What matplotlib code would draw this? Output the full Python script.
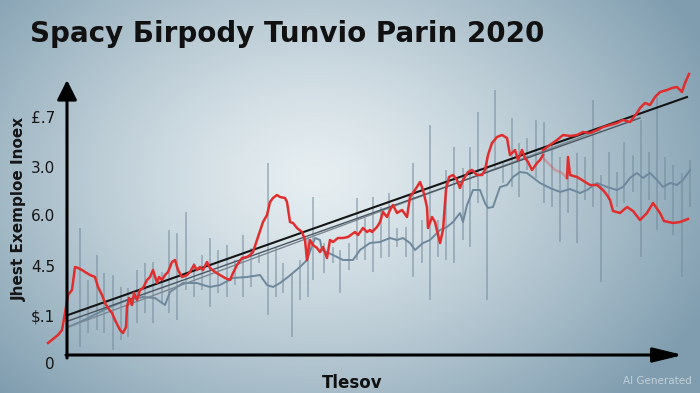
import matplotlib
matplotlib.use('Agg')
import matplotlib.pyplot as plt
import numpy as np
from matplotlib.colors import to_rgb

# x = trading day, y = index value
red_x = [-19, -14, -9, -5, -2, 1, 5, 8, 11, 15, 18, 23, 28, 31, 35, 38, 41, 45, 48, 53, 56, 59, 60, 62, 65, 67, 70, 73, 76, 80,
         83, 86, 90, 92, 95, 98, 101, 105, 108, 111, 115, 120, 123, 127, 130, 133, 136, 140, 143, 148, 153, 158, 163, 166, 170,
         175, 180, 183, 186, 191, 196, 200, 203, 206, 210, 213, 218, 220, 223, 226, 230, 235, 238, 240, 243, 246, 250, 253, 256,
         260, 263, 266, 271, 276, 281, 288, 291, 296, 300, 303, 305, 310, 313, 316, 320, 323, 326, 330, 335, 340, 343, 348, 353,
         356, 360, 361, 365, 368, 373, 376, 379, 382, 386, 390, 393, 396, 401, 405, 410, 415, 418, 421, 425, 430, 435, 440, 443,
         448, 451, 455, 458, 461, 465, 470, 473, 476]
red_y = [12, 16, 20, 25, 42, 60, 65, 88, 87, 85, 83, 80, 78, 68, 60, 52, 47, 42, 35, 25, 22, 28, 48, 57, 50, 62, 55, 65, 67, 75,
         78, 85, 72, 78, 75, 80, 83, 93, 95, 85, 78, 80, 83, 90, 85, 88, 85, 93, 87, 83, 80, 77, 75, 82, 90,
         97, 98, 100, 103, 118, 133, 140, 153, 157, 160, 158, 157, 153, 133, 132, 127, 123, 115, 95, 115, 110, 107, 103, 108,
         97, 115, 113, 117, 117, 118, 123, 120, 127, 123, 125, 123, 128, 133, 143, 138, 145, 150, 142, 145, 138, 158, 165, 173,
         165, 148, 127, 138, 133, 112, 125, 165, 178, 180, 175, 167, 175, 183, 185, 180, 180, 185, 200, 212, 218, 220, 217, 200,
         205, 195, 205, 197, 193, 185, 192, 195, 200]

up_x = [476, 483, 490, 496, 503, 510, 516, 523, 530, 536, 543, 550, 556, 563, 570, 573, 578, 583, 588, 593, 600, 605, 610, 615, 618, 622]
up_y = [205, 210, 215, 220, 219, 220, 223, 222, 225, 228, 230, 232, 235, 233, 242, 247, 252, 250, 258, 263, 265, 267, 268, 263, 272, 281]

fade_x = [476, 481, 488, 495, 500]
fade_y = [197, 192, 185, 182, 177]

low_x = [500, 501, 503, 510, 515, 523, 530, 536, 540, 543, 546, 553, 560, 566, 573, 580, 586, 593, 597, 606, 613, 621]
low_y = [177, 198, 180, 178, 175, 170, 170, 165, 160, 155, 144, 142, 148, 144, 135, 142, 152, 142, 134, 132, 133, 136]

blue_x = [1, 13, 23, 33, 43, 60, 76, 88, 98, 103, 116, 130, 136, 143, 153, 166, 180, 193, 200, 206, 213, 221, 233, 240, 248,
          253, 255, 266, 276, 286, 293, 303, 313, 323, 330, 336, 343, 348, 356, 363, 373, 380, 386, 393, 396, 400, 406, 413,
          418, 421, 426, 433, 440, 446, 453, 460, 473, 483, 493, 503, 513, 520, 530, 540, 550, 556, 563, 570, 576, 583, 590,
          596, 603, 610, 616, 623]
blue_y = [28, 33, 38, 43, 48, 55, 58, 57, 50, 63, 72, 72, 70, 68, 70, 77, 78, 80, 70, 68, 72, 78, 88, 95, 117,
          115, 105, 100, 95, 95, 105, 112, 113, 117, 115, 117, 112, 105, 112, 115, 125, 128, 133, 142, 133, 150, 165, 165,
          152, 147, 148, 168, 170, 178, 183, 182, 172, 167, 163, 166, 162, 165, 172, 168, 165, 168, 177, 182, 177, 182, 175,
          168, 172, 170, 175, 185]

trend_x = [1, 620]
trend_y = [40, 258]
trend2_x = [1, 573]
trend2_y = [34, 237]
trend3_x = [1, 533]
trend3_y = [28, 225]

# range bars (day, low, high)
bar_x = [13, 21, 30, 37, 46, 54, 61, 70, 78, 86, 95, 102, 110, 119, 127, 135, 143, 151, 160, 168, 176, 184, 192, 201, 209,
         216, 225, 233, 241, 246, 257, 266, 273, 282, 290, 298, 306, 314, 322, 330, 339, 346, 355, 363, 371, 379, 387, 396,
         403, 411, 420, 428, 436, 445, 452, 460, 469, 477, 485, 493, 501, 510, 518, 526, 534, 542, 550, 557, 566, 574, 582,
         590, 598, 606, 615, 623]
bar_lo = [8, 22, 25, 22, 5, 15, 18, 32, 42, 32, 52, 42, 35, 65, 58, 65, 48, 62, 58, 70, 58, 68, 92, 40, 58,
          62, 18, 55, 58, 75, 82, 92, 62, 85, 95, 95, 83, 97, 98, 108, 98, 78, 92, 55, 98, 95, 92, 115,
          108, 152, 55, 185, 172, 168, 158, 185, 177, 152, 148, 113, 142, 112, 155, 148, 73, 155, 148, 152, 163, 98, 155,
          125, 155, 120, 78, 148]
bar_hi = [127, 75, 100, 82, 80, 68, 67, 85, 92, 93, 83, 125, 122, 143, 92, 100, 117, 105, 110, 95, 120, 107, 102, 192, 107,
          92, 82, 95, 118, 158, 112, 108, 105, 112, 157, 137, 158, 148, 162, 127, 128, 192, 135, 230, 135, 185, 208, 187,
          208, 243, 198, 265, 192, 237, 212, 217, 235, 233, 212, 198, 198, 202, 198, 255, 180, 203, 183, 213, 200, 235, 203,
          258, 198, 190, 182, 195]

ytick_pos = [-8, 39, 89, 140, 188, 238]
ytick_labels = ['0', '$.1', '4.5', '6.0', '3.0', '£.7']

fig = plt.figure(figsize=(7, 3.93), dpi=100)

# soft radial backdrop
bg = fig.add_axes([0, 0, 1, 1], zorder=-10)
gx, gy = np.meshgrid(np.linspace(0, 1, 350), np.linspace(1, 0, 200))
r = np.sqrt(((gx - 0.45) / 0.62) ** 2 + ((gy - 0.55) / 0.8) ** 2)
t = np.clip(r, 0, 1) ** 1.3
c0 = np.array(to_rgb('#e6eef1'))
c1 = np.array(to_rgb('#7f9daf'))
img = c0[None, None, :] * (1 - t[..., None]) + c1[None, None, :] * t[..., None]
bg.imshow(img, aspect='auto', extent=[0, 1, 0, 1], interpolation='bilinear')
bg.axis('off')

ax = fig.add_axes([40 / 700, 18 / 393, 655 / 700, 315 / 393])
ax.patch.set_alpha(0)
ax.set_xlim(-27, 628)
ax.set_ylim(-20, 295)
for s in ax.spines.values():
    s.set_visible(False)

ax.vlines(bar_x, bar_lo, bar_hi, color='#71899c', alpha=0.55, lw=1.3, zorder=1)
ax.plot(blue_x, blue_y, color='#6d889d', lw=1.4, zorder=2)
ax.plot(trend3_x, trend3_y, color='#7a8894', lw=1.0, zorder=3)
ax.plot(trend2_x, trend2_y, color='#4b5660', lw=1.0, zorder=3)
ax.plot(trend_x, trend_y, color='#151515', lw=1.5, zorder=4)
ax.plot(fade_x, fade_y, color='#e03535', lw=1.8, alpha=0.3, zorder=5)
ax.plot(red_x, red_y, color='#e02d2d', lw=1.8, zorder=5)
ax.plot(up_x, up_y, color='#e02d2d', lw=1.8, zorder=5)
ax.plot(low_x, low_y, color='#e02d2d', lw=1.8, zorder=5)

# axis arrows
ax.annotate('', xy=(0, 275), xytext=(0, -3),
            arrowprops=dict(arrowstyle='-|>,head_length=0.6,head_width=0.3', lw=2.2, color='black',
                            mutation_scale=20, shrinkA=0, shrinkB=0), zorder=6)
ax.annotate('', xy=(616, 0), xytext=(-1, 0),
            arrowprops=dict(arrowstyle='-|>,head_length=0.9,head_width=0.22', lw=2.2, color='black',
                            mutation_scale=20, shrinkA=0, shrinkB=0), zorder=6)

ax.set_xticks([])
ax.set_yticks(ytick_pos, ytick_labels)
ax.tick_params(axis='y', length=0, pad=-10.8, labelsize=11, labelcolor='#151515')

fig.text(30 / 700, 1 - 42 / 393, 'Spacy Бirpody Tunvio Parin 2020', fontsize=20, fontweight='bold',
         color='#111111', va='baseline', ha='left')
fig.text(19 / 700, 1 - 209 / 393, 'Jhest Exemploe Inoex', fontsize=11, fontweight='bold',
         color='#151515', rotation=90, ha='center', va='center')
fig.text(352 / 700, 1 - 388 / 393, 'Tlesov', fontsize=12, fontweight='bold', color='#111111',
         ha='center', va='baseline')
fig.text(692 / 700, 1 - 384 / 393, 'AI Generated', fontsize=7.5, color='#c3d0d7', ha='right', va='baseline')

fig.savefig('out.png', dpi=100)
